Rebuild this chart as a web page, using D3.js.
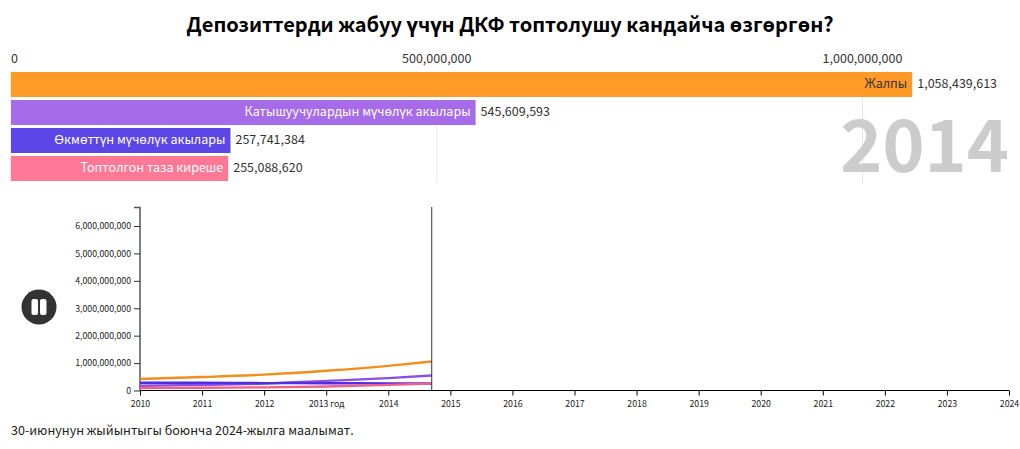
<!DOCTYPE html>
<html>
<head>
<meta charset="utf-8">
<script src="https://cdn.jsdelivr.net/npm/d3@7"></script>
<style>
  body { margin: 0; background: #fff; font-family: "Noto Sans CJK SC", "Noto Sans", sans-serif; color: #333; }
  svg { display: block; position: absolute; left: 0; top: 0; }
  text { font-family: "Noto Sans CJK SC", "Noto Sans", sans-serif; }
</style>
</head>
<body>
<svg id="chart" width="1020" height="449"></svg>
<script>
const chartTitle = 'Депозиттерди жабуу үчүн ДКФ топтолушу кандайча өзгөргөн?';
const footNote = '30-июнунун жыйынтыгы боюнча 2024-жылга маалымат.';
const currentYear = '2014';

const barNames = ['Жалпы', 'Катышуучулардын мүчөлүк акылары', 'Өкмөттүн мүчөлүк акылары', 'Топтолгон таза киреше'];
const barValues = [1058439613, 545609593, 257741384, 255088620];
const barColors = ['#ff9a27', '#a56be8', '#5d46e8', '#ff7896'];
const barLabelColors = ['#333333', '#ffffff', '#ffffff', '#ffffff'];
const barTicks = [0, 500000000, 1000000000];

const lineYears = [2010, 2011, 2012, 2013, 2014, 2014.7];
const totalLine = [420000000, 490000000, 580000000, 720000000, 900000000, 1058439613];
const memberLine = [175000000, 205000000, 255000000, 350000000, 450000000, 545609593];
const governmentLine = [285000000, 280000000, 270000000, 265000000, 260000000, 257741384];
const incomeLine = [90000000, 100000000, 115000000, 145000000, 205000000, 255088620];
const lineColors = ['#f28e1c', '#8a4fe0', '#4f2fe0', '#f0608a'];
const yTicks = [0, 1000000000, 2000000000, 3000000000, 4000000000, 5000000000, 6000000000];
const xTicks = [2010, 2011, 2012, 2013, 2014, 2015, 2016, 2017, 2018, 2019, 2020, 2021, 2022, 2023, 2024];

const svg = d3.select('#chart');
const fmt = d3.format(',');

svg.append('text')
  .attr('x', 510).attr('y', 32)
  .attr('text-anchor', 'middle')
  .attr('font-size', 20).attr('font-weight', 700).attr('fill', '#000')
  .text(chartTitle);

// bar race part
const xBar = d3.scaleLinear().domain([0, 1000000000]).range([11, 862.5]);
const yBar = d3.scaleBand().domain(barNames).range([72, 181]).paddingInner(3 / 28);

const gridG = svg.append('g');
barTicks.forEach(t => {
  gridG.append('line')
    .attr('x1', xBar(t)).attr('x2', xBar(t))
    .attr('y1', 71).attr('y2', 183)
    .attr('stroke', '#e6e6e6').attr('stroke-width', 1);
  gridG.append('text')
    .attr('x', xBar(t))
    .attr('y', 63)
    .attr('text-anchor', t === 0 ? 'start' : 'middle')
    .attr('font-size', 12.5).attr('fill', '#333')
    .text(fmt(t));
});

svg.append('text')
  .attr('x', 1009).attr('y', 172)
  .attr('text-anchor', 'end')
  .attr('font-size', 71.5).attr('font-weight', 700).attr('fill', '#cccccc')
  .text(currentYear);

barNames.forEach((name, i) => {
  const w = xBar(barValues[i]);
  const midY = yBar(name) + yBar.bandwidth() / 2 + 3.8;
  svg.append('rect')
    .attr('x', 11).attr('y', yBar(name))
    .attr('width', w - 11).attr('height', yBar.bandwidth())
    .attr('fill', barColors[i]);
  svg.append('text')
    .attr('x', w - 5).attr('y', midY)
    .attr('text-anchor', 'end')
    .attr('font-size', 12.5).attr('fill', barLabelColors[i])
    .text(name);
  svg.append('text')
    .attr('x', w + 5).attr('y', midY)
    .attr('font-size', 12.5).attr('fill', '#333')
    .text(fmt(barValues[i]));
});

// line part
const xLine = d3.scaleLinear().domain([2010, 2024]).range([140, 1009]);
const yLine = d3.scaleLinear().domain([0, 6000000000]).range([390.5, 226]);

const yAxis = d3.axisLeft(yLine).tickValues(yTicks).tickFormat(fmt).tickSize(6);
const xAxis = d3.axisBottom(xLine).tickValues(xTicks).tickFormat(d => d === 2013 ? '2013 год' : String(d)).tickSize(5);

const gy = svg.append('g').attr('transform', 'translate(140,0)').call(yAxis);
gy.select('.domain').attr('d', 'M-6,207.5H0V390.5').attr('stroke', '#555').attr('stroke-width', 1.5);
gy.selectAll('text').attr('font-size', 8.75).attr('fill', '#222');
gy.selectAll('.tick line').attr('stroke', '#333');

const gx = svg.append('g').attr('transform', 'translate(0,390.5)').call(xAxis);
gx.select('.domain').attr('d', 'M140,0H1009').attr('stroke', '#000');
gx.selectAll('text').attr('font-size', 8.75).attr('fill', '#222').attr('dy', '1em');
gx.selectAll('.tick line').attr('stroke', '#000');

const line = d3.line().x((d, i) => xLine(lineYears[i])).y(d => yLine(d)).curve(d3.curveMonotoneX);
[totalLine, memberLine, governmentLine, incomeLine].forEach((s, i) => {
  svg.append('path').attr('d', line(s)).attr('fill', 'none')
    .attr('stroke', lineColors[i]).attr('stroke-width', 2.4);
});

svg.append('line')
  .attr('x1', xLine(2014.7)).attr('x2', xLine(2014.7))
  .attr('y1', 207).attr('y2', 390.5)
  .attr('stroke', '#333').attr('stroke-width', 1);

// pause button
const btn = svg.append('g').attr('transform', 'translate(39,307)');
btn.append('circle').attr('r', 17.5).attr('fill', '#333');
btn.append('rect').attr('x', -7.5).attr('y', -8).attr('width', 6.5).attr('height', 16).attr('rx', 2).attr('fill', '#fff');
btn.append('rect').attr('x', 1).attr('y', -8).attr('width', 6.5).attr('height', 16).attr('rx', 2).attr('fill', '#fff');

svg.append('text')
  .attr('x', 11).attr('y', 435)
  .attr('font-size', 12.5).attr('fill', '#222')
  .text(footNote);
</script>
</body>
</html>
